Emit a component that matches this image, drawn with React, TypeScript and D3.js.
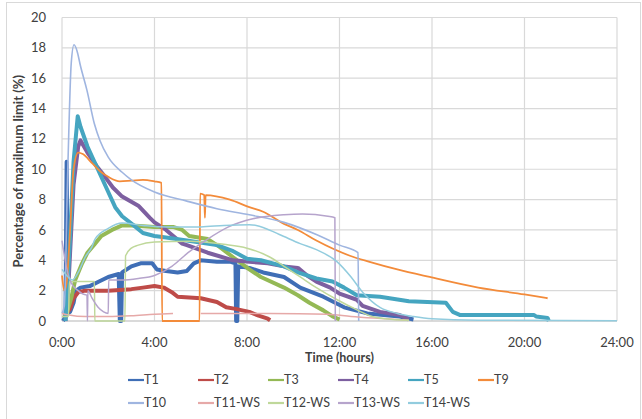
import * as d3 from "d3";

// time in hours, value in % of max limit
const T1: [number, number][] = [
  [0.05, 0], [0.15, 0.3], [0.2, 10.5], [0.25, 0.5], [0.35, 0.6], [0.5, 1.2], [0.6, 2.0], [0.8, 2.2],
  [1.2, 2.3], [1.6, 2.6], [2.0, 2.9], [2.45, 3.1], [2.5, 0], [2.56, 0], [2.6, 3.2], [3.0, 3.6],
  [3.4, 3.8], [3.9, 3.8], [4.1, 3.4], [4.5, 3.3], [5.0, 3.2], [5.4, 3.3], [5.7, 3.8], [6.0, 4.0],
  [6.7, 3.9], [7.3, 3.9], [7.5, 3.8], [7.53, 0], [7.58, 0], [7.62, 3.6], [8.1, 3.5], [8.7, 3.2],
  [9.6, 2.9], [10.3, 2.2], [11.3, 1.6], [12.2, 0.9], [13.2, 0.5], [14.6, 0.3], [15.2, 0.1],
];
const T2: [number, number][] = [
  [0.1, 0.3], [0.2, 0.5], [0.35, 0.8], [0.5, 1.5], [0.7, 1.9], [1.0, 2.0], [2.0, 2.0], [3.0, 2.1],
  [3.5, 2.2], [4.0, 2.3], [4.4, 2.2], [4.75, 1.9], [5.0, 1.6], [5.5, 1.55], [6.0, 1.5], [6.7, 1.25],
  [7.1, 0.9], [7.5, 0.8], [8.1, 0.6], [8.5, 0.35], [8.9, 0.15], [9.0, 0.05],
];
const T3: [number, number][] = [
  [0.1, 0.2], [0.2, 0.5], [0.4, 1.5], [0.57, 2.7], [0.87, 3.8], [1.1, 4.5], [1.43, 5.1], [1.7, 5.6],
  [2.16, 6.0], [2.6, 6.3], [3.0, 6.3], [4.0, 6.2], [4.8, 6.2], [5.2, 6.0], [5.5, 5.6], [6.3, 5.4],
  [6.8, 4.9], [7.4, 4.2], [8.1, 3.4], [8.6, 2.9], [9.6, 2.2], [10.2, 1.7], [10.7, 1.2], [11.3, 0.7],
  [11.7, 0.3], [12.0, 0.1],
];
const T4: [number, number][] = [
  [0.15, 0], [0.3, 3], [0.5, 9], [0.7, 11.5], [0.8, 11.9], [1.1, 11.1], [1.5, 10.2], [1.86, 9.5],
  [2.2, 8.8], [2.6, 8.2], [3.3, 7.6], [3.8, 6.8], [4.0, 6.5], [4.5, 6.0], [5.2, 5.1], [5.4, 5.0],
  [6.3, 4.5], [7.4, 4.0], [8.1, 3.9], [8.9, 3.8], [9.6, 3.6], [10.2, 3.5], [10.6, 3.0], [11.0, 2.6],
  [11.6, 2.2], [12.0, 1.8], [12.75, 1.4], [13.0, 1.0], [13.75, 0.6], [14.6, 0.4], [15.0, 0.1],
];
const T5: [number, number][] = [
  [0.15, 0], [0.3, 4], [0.5, 10.5], [0.68, 13.5], [0.8, 12.8], [1.1, 11.5], [1.55, 10.0], [2.0, 8.5],
  [2.3, 7.5], [2.6, 6.9], [3.1, 6.3], [3.5, 5.8], [4.0, 5.6], [4.5, 5.5], [5.4, 5.3], [6.7, 5.0],
  [7.4, 4.6], [8.0, 4.1], [8.6, 4.0], [9.6, 3.6], [10.2, 3.2], [11.0, 2.8], [11.7, 2.6], [12.2, 2.2],
  [12.75, 1.7], [13.75, 1.6], [15.0, 1.3], [16.6, 1.2], [16.9, 0.6], [17.2, 0.4], [20.4, 0.4],
  [20.5, 0.3], [21.0, 0.2], [21.05, 0],
];
const T9: [number, number][] = [
  [0, 3.0], [0.1, 2.0], [0.2, 2.5], [0.35, 6], [0.5, 10], [0.7, 11.1], [0.9, 11.0], [1.3, 10.4],
  [1.7, 9.8], [2.0, 9.5], [2.5, 9.2], [3.0, 9.25], [3.5, 9.3], [4.0, 9.2], [4.3, 9.1], [4.33, 0],
  [5.95, 0], [5.97, 8.4], [6.15, 8.3], [6.18, 6.8], [6.21, 8.3], [7.26, 8.0], [8.1, 7.5], [8.7, 7.2],
  [9.6, 6.4], [10.2, 6.0], [11.0, 5.3], [12.45, 4.3], [13.3, 3.9], [14.5, 3.4], [15.9, 2.9],
  [18.0, 2.2], [20.0, 1.75], [21.0, 1.5],
];
const T10: [number, number][] = [
  [0, 0.5], [0.1, 1], [0.25, 10], [0.4, 17], [0.52, 18.2], [0.65, 17.8], [0.8, 16.8], [1.08, 15.2],
  [1.4, 13.0], [1.64, 11.9], [2.0, 10.8], [2.6, 9.8], [3.0, 9.3], [4.0, 8.5], [5.4, 7.9], [6.7, 7.4],
  [8.1, 7.0], [9.6, 6.5], [11.0, 5.7], [12.0, 5.0], [12.8, 4.5], [12.83, 0],
];
const T11WS: [number, number | null][] = [
  [0, 0.5], [0.3, 0.4], [1.0, 0.3], [2.0, 0.3], [3.0, 0.35], [4.0, 0.45], [4.8, 0.5], [5.4, null],
  [6.0, 0.5], [9.0, 0.5], [11.5, 0.45], [12.5, 0.3], [14.0, 0.15], [15.0, 0.05],
];
const T12WS: [number, number][] = [
  [0, 0.3], [0.28, 0.3], [0.32, 2.6], [1.4, 2.6], [1.42, 0], [2.72, 0], [2.75, 4.3], [3.0, 4.8],
  [3.3, 5.0], [4.0, 5.2], [5.5, 5.25], [7.0, 5.05], [8.0, 4.8], [9.0, 4.2], [9.6, 3.6], [10.3, 2.9],
  [11.0, 2.2], [11.9, 1.4], [12.8, 0.7], [13.3, 0.35], [14.0, 0.15], [15.0, 0.05],
];
const T13WS: [number, number][] = [
  [0, 5.3], [0.2, 3.5], [0.4, 2.5], [0.7, 2.0], [0.87, 1.8], [1.08, 1.7], [1.1, 0], [1.12, 2.0],
  [1.3, 1.5], [1.56, 0.9], [1.8, 0.6], [2.0, 0.5], [2.02, 2.7], [2.6, 2.7], [3.3, 2.8], [4.0, 3.0],
  [4.75, 3.6], [5.45, 4.5], [6.2, 5.3], [7.2, 6.2], [8.3, 6.75], [9.6, 7.0], [10.4, 7.05],
  [11.5, 6.9], [11.8, 6.8], [11.82, 0],
];
const T14WS: [number, number][] = [
  [0, 3.4], [0.2, 3.0], [0.45, 2.7], [0.7, 3.2], [1.0, 4.2], [1.3, 4.9], [1.43, 5.4], [2.0, 6.1],
  [2.6, 6.45], [3.5, 6.3], [4.5, 6.2], [6.0, 6.2], [7.0, 6.3], [8.1, 6.35], [8.4, 6.3], [9.4, 5.7],
  [10.3, 5.1], [11.0, 4.7], [11.9, 3.9], [12.5, 2.9], [13.0, 1.9], [13.75, 0.9], [14.5, 0.5],
  [15.2, 0.3], [16.0, 0.15], [18.0, 0.05], [24.0, 0.02],
];

const names = ["T1", "T2", "T3", "T4", "T5", "T9", "T10", "T11-WS", "T12-WS", "T13-WS", "T14-WS"];
const colors = ["#3F6EB6", "#BE4B48", "#94B955", "#7D5FA0", "#45A5C0", "#F38B3A", "#9FB5E0", "#E6A9A8", "#BFD89A", "#B6A4CC", "#92CCDE"];
const widths = [4, 4, 4, 4, 4, 1.8, 1.6, 1.5, 1.5, 1.5, 1.5];
const datasets = [T1, T2, T3, T4, T5, T9, T10, T11WS, T12WS, T13WS, T14WS];

const xTicks = [0, 4, 8, 12, 16, 20, 24];
const yTicks = [0, 2, 4, 6, 8, 10, 12, 14, 16, 18, 20];

const W = 642;
const H = 419;
const FONT = "Lato, 'Open Sans', sans-serif";

export default function App() {
  const x = d3.scaleLinear().domain([0, 24]).range([62, 617]);
  const y = d3.scaleLinear().domain([0, 20]).range([321, 17.5]);

  const lineFor = (smooth: boolean) =>
    d3
      .line<[number, number | null]>()
      .defined((d) => d[1] !== null)
      .x((d) => x(d[0]))
      .y((d) => y(d[1] as number))
      .curve(smooth ? d3.curveMonotoneX : d3.curveLinear);

  return (
    <svg width={W} height={H} style={{ position: "absolute", left: 0, top: 0, background: "#fff" }}>
      <rect x={6.5} y={2.5} width={W - 8} height={H - 2} fill="#fff" stroke="#d9d9d9" />
      {/* gridlines */}
      {yTicks.map((t) => (
        <line key={"gy" + t} x1={x(0)} x2={x(24)} y1={y(t)} y2={y(t)} stroke="#d9d9d9" strokeWidth={1.2} />
      ))}
      {xTicks.map((t) => (
        <line key={"gx" + t} x1={x(t)} x2={x(t)} y1={y(0)} y2={y(20)} stroke="#d9d9d9" strokeWidth={1.2} />
      ))}
      <line x1={x(0)} x2={x(24)} y1={y(0)} y2={y(0)} stroke="#c8c8c8" strokeWidth={1.2} />

      {/* series */}
      {datasets.map((d, i) => (
        <path
          key={names[i]}
          d={lineFor(i >= 5)(d as [number, number | null][]) || ""}
          fill="none"
          stroke={colors[i]}
          strokeWidth={widths[i]}
          strokeLinejoin="round"
        />
      ))}

      {/* tick labels */}
      {yTicks.map((t) => (
        <text key={"ly" + t} x={46} y={y(t)} dy="0.35em" textAnchor="end" fontFamily={FONT} fontSize={13} fill="#404040">
          {t}
        </text>
      ))}
      {xTicks.map((t) => (
        <text key={"lx" + t} x={x(t)} y={342} dy="0.35em" textAnchor="middle" fontFamily={FONT} fontSize={13} fill="#404040">
          {`${t}:00`}
        </text>
      ))}

      <text x={x(12)} y={358} dy="0.35em" textAnchor="middle" fontFamily={FONT} fontSize={12.5} fontWeight="bold" fill="#404040">
        Time (hours)
      </text>
      <text
        transform={`translate(18,${(y(0) + y(20)) / 2 + 2}) rotate(-90)`}
        textAnchor="middle"
        dy="0.35em"
        fontFamily={FONT}
        fontSize={13}
        fontWeight="bold"
        fill="#404040"
      >
        Percentage of maxilmum limit (%)
      </text>

      {/* legend */}
      {names.map((n, i) => {
        const col = i < 6 ? i : i - 6;
        const row = i < 6 ? 0 : 1;
        const lx = 128 + col * 70;
        const ly = 380 + row * 23;
        return (
          <g key={"lg" + n}>
            <line x1={lx} x2={lx + 16} y1={ly} y2={ly} stroke={colors[i]} strokeWidth={2.2} />
            <text x={lx + 16} y={ly} dy="0.35em" fontFamily={FONT} fontSize={12.5} fill="#404040">
              {n}
            </text>
          </g>
        );
      })}
    </svg>
  );
}
